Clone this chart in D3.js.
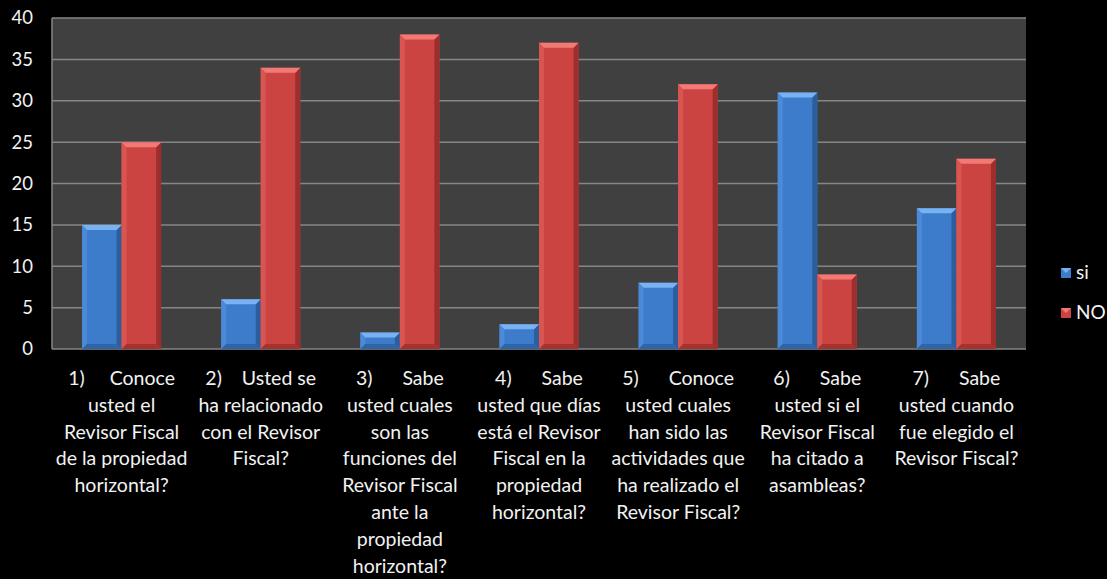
<!DOCTYPE html>
<html>
<head>
<meta charset="utf-8">
<script src="https://cdn.jsdelivr.net/npm/d3@7"></script>
<style>
body { margin: 0; background: #000; }
svg { display: block; font-family: Lato, "Open Sans", sans-serif; }
</style>
</head>
<body>
<script>
var width = 1107;
var height = 579;

var categories = [
    ["1)     Conoce", "usted el", "Revisor Fiscal", "de la propiedad", "horizontal?"],
    ["2)    Usted se", "ha relacionado", "con el Revisor", "Fiscal?"],
    ["3)      Sabe", "usted cuales", "son las", "funciones del", "Revisor Fiscal", "ante la", "propiedad", "horizontal?"],
    ["4)      Sabe", "usted que días", "está el Revisor", "Fiscal en la", "propiedad", "horizontal?"],
    ["5)      Conoce", "usted cuales", "han sido las", "actividades que", "ha realizado el", "Revisor Fiscal?"],
    ["6)      Sabe", "usted si el", "Revisor Fiscal", "ha citado a", "asambleas?"],
    ["7)      Sabe", "usted cuando", "fue elegido el", "Revisor Fiscal?"]
];
var seriesNames = ["si", "NO"];
var siValues = [15, 6, 2, 3, 8, 31, 17];
var noValues = [25, 34, 38, 37, 32, 9, 23];
var yTicks = [0, 5, 10, 15, 20, 25, 30, 35, 40];

var palette = {
    si: {face: "#3d7ccb", top: "#79b2f2", left: "#4a8ad8", right: "#2c5e9e", bottom: "#2f64a6"},
    NO: {face: "#cc4441", top: "#f27a76", left: "#d95552", right: "#9c2f2d", bottom: "#a5322f"}
};

var plot = {left: 52, right: 1026, top: 18, bottom: 349};

var x = d3.scaleBand()
    .domain(d3.range(categories.length))
    .range([plot.left, plot.right])
    .paddingInner(0)
    .paddingOuter(0);

var xInner = d3.scaleBand()
    .domain(seriesNames)
    .range([0, x.bandwidth()])
    .paddingOuter(0.76)
    .paddingInner(0);

var y = d3.scaleLinear()
    .domain([0, 40])
    .range([plot.bottom, plot.top]);

var svg = d3.select("body").append("svg")
    .attr("width", width)
    .attr("height", height);

svg.append("rect")
    .attr("width", width)
    .attr("height", height)
    .attr("fill", "#000");

svg.append("rect")
    .attr("x", plot.left)
    .attr("y", plot.top)
    .attr("width", plot.right - plot.left)
    .attr("height", plot.bottom - plot.top)
    .attr("fill", "#404040");

// gridlines
svg.append("g")
    .attr("class", "grid")
    .selectAll("line")
    .data(yTicks)
    .enter().append("line")
    .attr("x1", plot.left)
    .attr("x2", plot.right)
    .attr("y1", d => y(d))
    .attr("y2", d => y(d))
    .attr("stroke", "#868686")
    .attr("stroke-width", 1.5);

svg.append("line")
    .attr("x1", plot.left)
    .attr("x2", plot.left)
    .attr("y1", plot.top)
    .attr("y2", plot.bottom)
    .attr("stroke", "#868686")
    .attr("stroke-width", 1.5);

// y axis labels
var yAxis = d3.axisLeft(y).tickValues(yTicks).tickSize(0).tickPadding(19);
var yg = svg.append("g")
    .attr("transform", `translate(${plot.left}, 0)`)
    .call(yAxis);
yg.select(".domain").remove();
yg.selectAll("text")
    .attr("fill", "#f2f2f2")
    .style("font-size", "18.5px")
    .style("font-family", "Lato, 'Open Sans', sans-serif");

// bars
var rows = categories.map((c, i) => ({i: i, si: siValues[i], NO: noValues[i]}));
var bevel = 5;

function barShapes(d) {
    var x0 = x(d.i) + xInner(d.key);
    var w = xInner.bandwidth();
    var y0 = y(d.value);
    var y1 = y(0);
    var b = Math.min(bevel, (y1 - y0) / 2);
    var x1 = x0 + w;
    return [
        {p: [[x0, y0], [x1, y0], [x1, y1], [x0, y1]], c: palette[d.key].face},
        {p: [[x0, y0], [x0 + b, y0 + b], [x0 + b, y1 - b], [x0, y1]], c: palette[d.key].left},
        {p: [[x1, y0], [x1 - b, y0 + b], [x1 - b, y1 - b], [x1, y1]], c: palette[d.key].right},
        {p: [[x0, y1], [x0 + b, y1 - b], [x1 - b, y1 - b], [x1, y1]], c: palette[d.key].bottom},
        {p: [[x0, y0], [x1, y0], [x1 - b, y0 + b], [x0 + b, y0 + b]], c: palette[d.key].top}
    ];
}

var groups = svg.append("g")
    .attr("class", "bars")
    .selectAll("g")
    .data(rows)
    .enter().append("g");

groups.selectAll("g")
    .data(d => seriesNames.map(k => ({i: d.i, key: k, value: d[k]})))
    .enter().append("g")
    .selectAll("polygon")
    .data(barShapes)
    .enter().append("polygon")
    .attr("points", s => s.p.map(pt => pt.join(",")).join(" "))
    .attr("fill", s => s.c);

// category labels
var lineH = 26.8;
var labels = svg.append("g")
    .attr("class", "xlabels")
    .selectAll("text")
    .data(categories)
    .enter().append("text")
    .attr("text-anchor", "middle")
    .attr("fill", "#f2f2f2")
    .style("font-size", "19.5px")
    .attr("x", (d, i) => x(i) + x.bandwidth() / 2)
    .attr("y", 385);

labels.selectAll("tspan")
    .data(d => d)
    .enter().append("tspan")
    .attr("x", function() { return this.parentNode.getAttribute("x"); })
    .attr("dy", (d, i) => i === 0 ? 0 : lineH)
    .style("white-space", "pre")
    .text(d => d);

// legend
var legend = svg.append("g")
    .attr("class", "legend")
    .selectAll("g")
    .data(seriesNames)
    .enter().append("g")
    .attr("transform", (d, i) => `translate(1061, ${268 + i * 40})`);

legend.append("rect")
    .attr("width", 10)
    .attr("height", 10)
    .attr("fill", d => palette[d].face);
legend.append("polygon")
    .attr("points", "0,0 10,0 5,5")
    .attr("fill", d => palette[d].top);

legend.append("text")
    .attr("x", 15)
    .attr("y", 11)
    .attr("fill", "#f2f2f2")
    .style("font-size", "19px")
    .text(d => d);
</script>
</body>
</html>
